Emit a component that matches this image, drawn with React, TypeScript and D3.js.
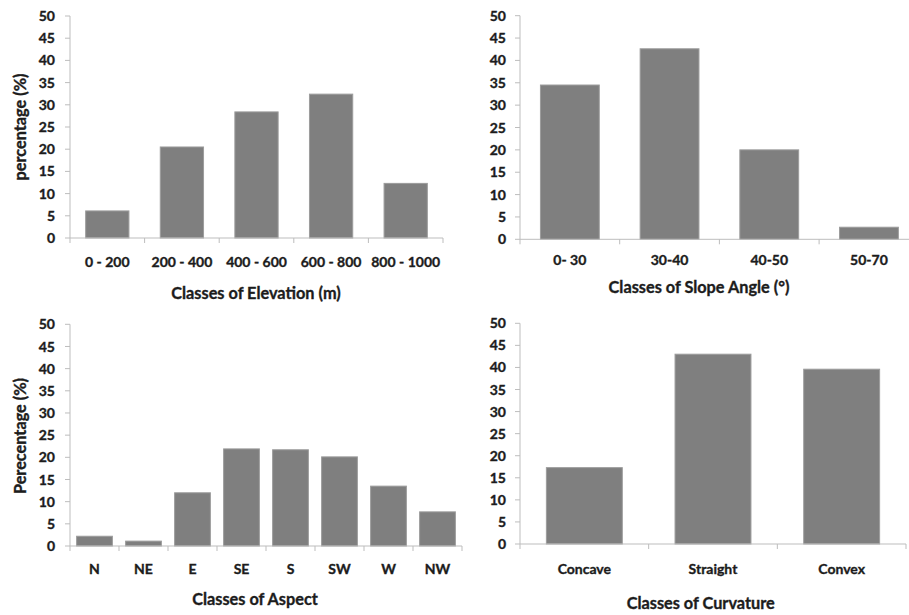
import React from "react";
import * as d3 from "d3";

const elevationCats = ["0 - 200", "200 - 400", "400 - 600", "600 - 800", "800 - 1000"];
const elevationVals = [6.1, 20.5, 28.4, 32.4, 12.3];

const slopeCats = ["0- 30", "30-40", "40-50", "50-70"];
const slopeVals = [34.5, 42.6, 20.0, 2.7];

const aspectCats = ["N", "NE", "E", "SE", "S", "SW", "W", "NW"];
const aspectVals = [2.2, 1.1, 12.0, 21.9, 21.7, 20.1, 13.5, 7.7];

const curvatureCats = ["Concave", "Straight", "Convex"];
const curvatureVals = [17.3, 43.0, 39.6];

const yTicks = [0, 5, 10, 15, 20, 25, 30, 35, 40, 45, 50];

const FONT = "Lato, 'Open Sans', sans-serif";
const TEXT = "#1c1c1c";
const AXIS = "#bdbdbd";
const BAR = "#7f7f7f";
const BAR_EDGE = "#9c9c9c";

const textStyle = {
  fontFamily: FONT,
  fontWeight: "bold" as const,
  fill: TEXT,
  stroke: TEXT,
  strokeWidth: 0.35,
};

type PanelProps = {
  cats: string[];
  vals: number[];
  x0: number;
  x1: number;
  yTop: number;
  yBottom: number;
  pad: number;
  tickRight: number;
  xLabelY: number;
  title: string;
  titleX: number;
  titleY: number;
  yTitle?: string;
  yTitleX?: number;
  yTitleY?: number;
};

function Panel(p: PanelProps) {
  const x = d3
    .scaleBand<string>()
    .domain(p.cats)
    .range([p.x0, p.x1])
    .paddingInner(p.pad)
    .paddingOuter(p.pad / 2);
  const y = d3.scaleLinear().domain([0, 50]).range([p.yBottom, p.yTop]);
  const step = x.step();
  const bounds = d3.range(p.cats.length + 1).map((i) => p.x0 + i * step);
  return (
    <g>
      {p.cats.map((c, i) => (
        <rect
          key={c}
          x={x(c)!}
          y={y(p.vals[i])}
          width={x.bandwidth()}
          height={y(0) - y(p.vals[i])}
          fill={BAR}
          stroke={BAR_EDGE}
          strokeWidth={1}
        />
      ))}
      <line x1={p.x0} x2={p.x0} y1={y(50)} y2={y(0)} stroke={AXIS} strokeWidth={1} />
      {yTicks.map((t) => (
        <g key={t}>
          <line x1={p.x0 - 5} x2={p.x0} y1={y(t)} y2={y(t)} stroke={AXIS} strokeWidth={1} />
          <text x={p.tickRight} y={y(t)} dy="0.36em" textAnchor="end" fontSize={14} style={textStyle}>
            {t}
          </text>
        </g>
      ))}
      <line x1={p.x0} x2={p.x1} y1={y(0)} y2={y(0)} stroke={AXIS} strokeWidth={1} />
      {bounds.map((b, i) => (
        <line key={i} x1={b} x2={b} y1={y(0)} y2={y(0) + 5} stroke={AXIS} strokeWidth={1} />
      ))}
      {p.cats.map((c) => (
        <text
          key={c}
          x={x(c)! + x.bandwidth() / 2}
          y={p.xLabelY}
          textAnchor="middle"
          fontSize={14}
          style={textStyle}
        >
          {c}
        </text>
      ))}
      <text x={p.titleX} y={p.titleY} textAnchor="middle" fontSize={16.3} style={textStyle}>
        {p.title}
      </text>
      {p.yTitle && (
        <text
          transform={`translate(${p.yTitleX},${p.yTitleY}) rotate(-90)`}
          textAnchor="middle"
          dy="0.35em"
          fontSize={16.3}
          style={textStyle}
        >
          {p.yTitle}
        </text>
      )}
    </g>
  );
}

export default function App() {
  return (
    <svg width={909} height={615} style={{ position: "absolute", left: 0, top: 0, background: "#fff" }}>
      <rect x={0} y={0} width={909} height={615} fill="#fff" />
      <Panel
        cats={elevationCats}
        vals={elevationVals}
        x0={70}
        x1={443}
        yTop={16}
        yBottom={238}
        pad={0.42}
        tickRight={55}
        xLabelY={266.5}
        title="Classes of Elevation (m)"
        titleX={256}
        titleY={299}
        yTitle="percentage (%)"
        yTitleX={20}
        yTitleY={127}
      />
      <Panel
        cats={slopeCats}
        vals={slopeVals}
        x0={520}
        x1={918.8}
        yTop={15.7}
        yBottom={239.3}
        pad={0.41}
        tickRight={506}
        xLabelY={265}
        title="Classes of Slope Angle (°)"
        titleX={699}
        titleY={293}
      />
      <Panel
        cats={aspectCats}
        vals={aspectVals}
        x0={70}
        x1={462}
        yTop={324.3}
        yBottom={546}
        pad={0.27}
        tickRight={55}
        xLabelY={574}
        title="Classes of Aspect"
        titleX={255}
        titleY={605}
        yTitle="Perecentage (%)"
        yTitleX={20}
        yTitleY={436}
      />
      <Panel
        cats={curvatureCats}
        vals={curvatureVals}
        x0={520}
        x1={906}
        yTop={323.3}
        yBottom={544}
        pad={0.41}
        tickRight={506}
        xLabelY={574}
        title="Classes of Curvature"
        titleX={700.7}
        titleY={609}
      />
    </svg>
  );
}
